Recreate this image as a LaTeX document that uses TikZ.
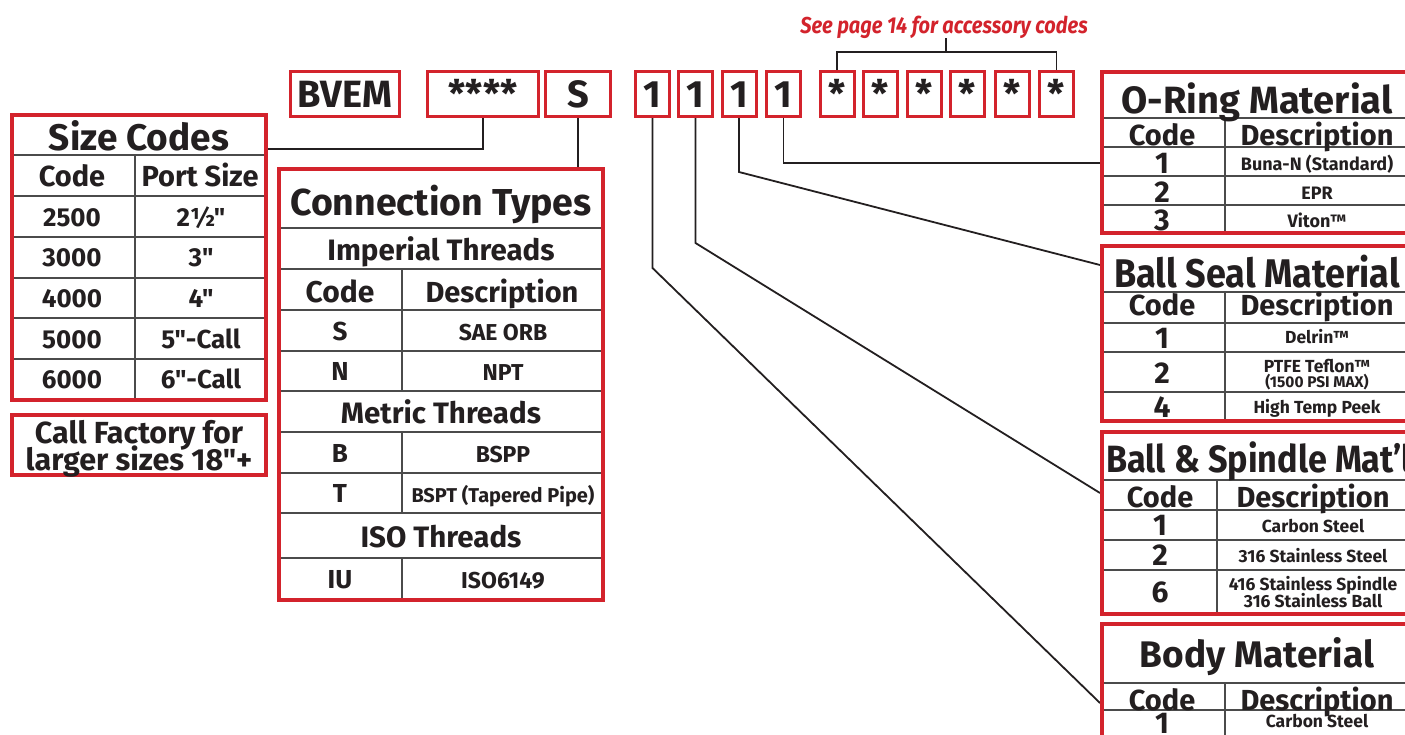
\documentclass[tikz,border=0pt]{standalone}
\usepackage{fontspec}
\newfontfamily\tabfont{Fira Sans}
\newfontfamily\narrowfont{Fira Sans}[FakeStretch=0.9]
\newfontfamily\accfont{Fira Sans}[FakeStretch=0.87]
\definecolor{ink}{RGB}{35,31,32}
\definecolor{vred}{RGB}{211,35,44}
\definecolor{rule}{RGB}{75,75,75}
\newcommand\fsz[1]{\tabfont\fontsize{#1}{#1}\selectfont\bfseries}
\newcommand\nfsz[1]{\narrowfont\fontsize{#1}{#1}\selectfont\bfseries}

\tikzset{
  txt/.style={inner sep=0pt, text=ink, anchor=base},
  frame/.style={draw=vred, line width=4.5pt},
  grid/.style={draw=rule, line width=1.2pt},
  codebox/.style={draw=vred, line width=3pt, fill=white, minimum height=45pt,
    inner sep=0pt, text=ink, text height=27pt, text depth=0pt, font=\fsz{38}},
  link/.style={draw=ink, line width=1.8pt},
}

\begin{document}
\begin{tikzpicture}[x=1pt,y=-1pt]
  \clip (0,0) rectangle (1405,734);

  % Code boxes
  \node[codebox, minimum width=109pt] (bvem) at (345,94) {BVEM};
  \node[codebox, minimum width=111pt] (size) at (483,94) {****};
  \node[codebox, minimum width=65pt] (conn) at (578,94) {S};
  \foreach \n/\x in {body/652.5, ball/695.5, seal/739, ring/783.5}
    \node[codebox, minimum width=34pt] (\n) at (\x,94) {1};
  \foreach \x [count=\i] in {837,880.5,924,967.5,1012.5,1056.5}
    \node[codebox, minimum width=34pt] (acc\i) at (\x,94) {*};

  % Accessory note
  \node[txt, text=vred, font=\accfont\fontsize{23}{23}\selectfont\bfseries\itshape]
    (acctext) at (944,33) {See page 14 for accessory codes};
  \coordinate (accbrk) at (946,52);
  \draw[link, line width=1.5pt] (acc1.north) |- (accbrk) -| (acc6.north);
  \draw[link, line width=1.5pt] (acctext.south -| accbrk) -- (accbrk);

  % Connectors
  \coordinate (sizein) at (268,149);
  \coordinate (connin) at (578,167);
  \coordinate (ringin) at (1100,163);
  \coordinate (sealin) at (1100,265);
  \coordinate (ballin) at (1100,493);
  \coordinate (bodyin) at (1100,703);
  \draw[link] (size.south) |- (sizein);
  \draw[link] (conn.south) -- (connin);
  \draw[link] (ring.south) |- (ringin);
  \draw[link] (seal.south) -- ++(0,54) -- (sealin);
  \draw[link] (ball.south) -- ++(0,125) -- (ballin);
  \draw[link] (body.south) -- ++(0,150) -- (bodyin);

  % Size Codes
  \foreach \y in {155,196,237,278,318,359}
    \draw[grid] (12,\y) -- (266,\y);
  \draw[grid] (135,155) -- (135,400);
  \draw[frame] (12,115) rectangle (266,400);
  \node[txt, font=\fsz{37}] (sizetitle) at (139,150) {Size Codes};
  \node[txt, font=\fsz{29}] (sizecode) at (72,186) {Code};
  \node[txt, font=\fsz{29}] (sizeport) at (200,186) {Port Size};
  \foreach \c/\p [count=\i] in {2500/2½", 3000/3", 4000/4", 5000/5"-Call, 6000/6"-Call} {
    \node[txt, font=\fsz{26}] (sizec\i) at (72,185.3+40.7*\i) {\c};
    \node[txt, font=\fsz{26}] (sizep\i) at (201,185.3+40.7*\i) {\p};
  }

  % Call factory note
  \draw[frame] (12,415) rectangle (266,475);
  \node[txt, font=\fsz{30.5}] (call1) at (139,443) {Call Factory for};
  \node[txt, font=\fsz{30.5}] (call2) at (139,470) {larger sizes 18"+};

  % Connection Types
  \foreach \y in {228,269,310,351,391,432,473,513,558}
    \draw[grid] (279,\y) -- (603,\y);
  \draw[grid] (402,269) -- (402,391) (402,432) -- (402,513) (402,558) -- (402,600);
  \draw[frame] (279,169) rectangle (603,600);
  \node[txt, font=\fsz{37.5}] (conntitle) at (441,215) {Connection Types};
  \node[txt, font=\fsz{29.5}] (connimp) at (441,260) {Imperial Threads};
  \node[txt, font=\fsz{30}] (conncode) at (340,302) {Code};
  \node[txt, font=\fsz{29}] (conndesc) at (502,302) {Description};
  \node[txt, font=\fsz{26}] (conns) at (340,340) {S};
  \node[txt, font=\fsz{23}] (connsd) at (503,340) {SAE ORB};
  \node[txt, font=\fsz{26}] (connn) at (340,380) {N};
  \node[txt, font=\fsz{23}] (connnd) at (503,380) {NPT};
  \node[txt, font=\fsz{29.5}] (connmet) at (441,423) {Metric Threads};
  \node[txt, font=\fsz{26}] (connb) at (340,462) {B};
  \node[txt, font=\fsz{23}] (connbd) at (503,462) {BSPP};
  \node[txt, font=\fsz{26}] (connt) at (340,502) {T};
  \node[txt, font=\fsz{20}] (conntd) at (503,502) {BSPT (Tapered Pipe)};
  \node[txt, font=\fsz{29.5}] (conniso) at (441,547) {ISO Threads};
  \node[txt, font=\fsz{26}] (connu) at (340,588) {IU};
  \node[txt, font=\fsz{23}] (connud) at (503,588) {ISO6149};

  % O-Ring Material
  \foreach \y in {118,147,176,205}
    \draw[grid] (1102,\y) -- (1412,\y);
  \draw[grid] (1225,118) -- (1225,233);
  \draw[frame] (1102,72) rectangle (1412,233);
  \node[txt, font=\fsz{38}] (ringtitle) at (1257,113) {O-Ring Material};
  \node[txt, font=\fsz{29}] (ringcode) at (1162,145) {Code};
  \node[txt, font=\fsz{29}] (ringdesc) at (1317,145) {Description};
  \foreach \c/\d/\y [count=\i] in {1/Buna-N (Standard)/173, 2/EPR/202, 3/Viton™/230} {
    \node[txt, font=\fsz{30}] (ringc\i) at (1162,\y) {\c};
    \node[txt, font=\fsz{18}] (ringd\i) at (1317,\y-3) {\d};
  }

  % Ball Seal Material
  \foreach \y in {292,323,352,392}
    \draw[grid] (1102,\y) -- (1412,\y);
  \draw[grid] (1225,292) -- (1225,421);
  \draw[frame] (1102,246) rectangle (1412,421);
  \node[txt, font=\nfsz{40}] (sealtitle) at (1257,287) {Ball Seal Material};
  \node[txt, font=\fsz{29}] (sealcode) at (1162,315) {Code};
  \node[txt, font=\fsz{29}] (sealdesc) at (1317,315) {Description};
  \node[txt, font=\fsz{30}] (sealc1) at (1162,348) {1};
  \node[txt, font=\fsz{17.5}] (seald1) at (1317,343) {Delrin™};
  \node[txt, font=\fsz{30}] (sealc2) at (1162,383) {2};
  \node[txt, font=\fsz{17.5}] (seald2) at (1317,372) {PTFE Teflon™};
  \node[txt, font=\fsz{15.5}] (seald2b) at (1317,387) {(1500 PSI MAX)};
  \node[txt, font=\fsz{30}] (sealc3) at (1162,417) {4};
  \node[txt, font=\fsz{17.5}] (seald3) at (1317,413) {High Temp Peek};

  % Ball & Spindle Material
  \foreach \y in {480,510,540,570}
    \draw[grid] (1102,\y) -- (1412,\y);
  \draw[grid] (1217,480) -- (1217,614);
  \draw[frame] (1102,432) rectangle (1412,614);
  \node[txt, font=\nfsz{38}] (balltitle) at (1259,472) {Ball \& Spindle Mat’l};
  \node[txt, font=\fsz{29}] (ballcode) at (1160,507) {Code};
  \node[txt, font=\fsz{29}] (balldesc) at (1313,507) {Description};
  \node[txt, font=\fsz{30}] (ballc1) at (1160,535) {1};
  \node[txt, font=\fsz{17.5}] (balld1) at (1313,532) {Carbon Steel};
  \node[txt, font=\fsz{30}] (ballc2) at (1160,565) {2};
  \node[txt, font=\fsz{17.5}] (balld2) at (1313,562) {316 Stainless Steel};
  \node[txt, font=\fsz{30}] (ballc3) at (1160,602) {6};
  \node[txt, font=\fsz{17.5}] (balld3) at (1313,590) {416 Stainless Spindle};
  \node[txt, font=\fsz{17.5}] (balld3b) at (1313,607) {316 Stainless Ball};

  % Body Material
  \foreach \y in {683,710}
    \draw[grid] (1102,\y) -- (1412,\y);
  \draw[grid] (1225,683) -- (1225,770);
  \draw[frame] (1102,624) rectangle (1412,770);
  \node[txt, font=\fsz{37}] (bodytitle) at (1257,667) {Body Material};
  \node[txt, font=\fsz{29}] (bodycode) at (1162,710) {Code};
  \node[txt, font=\fsz{29}] (bodydesc) at (1317,710) {Description};
  \node[txt, font=\fsz{30}] (bodyc1) at (1162,733) {1};
  \node[txt, font=\fsz{17.5}] (bodyd1) at (1317,727) {Carbon Steel};
\end{tikzpicture}
\end{document}
